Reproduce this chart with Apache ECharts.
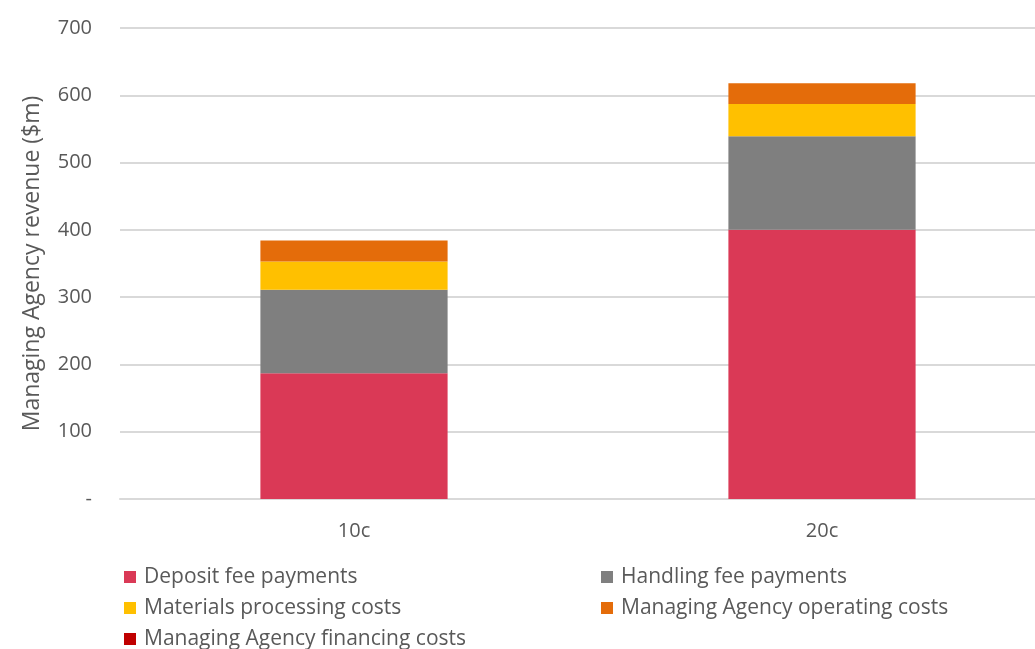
<!DOCTYPE html>
<html>
<head>
<meta charset="utf-8">
<script src="https://cdn.jsdelivr.net/npm/echarts@6/dist/echarts.min.js"></script>
<style>
  html, body { margin: 0; padding: 0; background: #fff; overflow: hidden; }
  #chart { width: 1060px; height: 649px; }
</style>
</head>
<body>
<div id="chart"></div>
<script>
// Managing Agency revenue by container deposit level ($m)
const categories = ['10c', '20c'];
const depositFee = [187, 400];
const handlingFee = [124, 139];
const materialsCost = [42, 48];
const operatingCost = [31, 31];
const financingCost = [0, 0];
const yTicks = [0, 100, 200, 300, 400, 500, 600, 700];

const textColor = '#595959';
const fontFamily = '"Open Sans", "Liberation Sans", sans-serif';

const seriesDefs = [
  { name: 'Deposit fee payments', data: depositFee, color: '#DA3956' },
  { name: 'Handling fee payments', data: handlingFee, color: '#7F7F7F' },
  { name: 'Materials processing costs', data: materialsCost, color: '#FFC000' },
  { name: 'Managing Agency operating costs', data: operatingCost, color: '#E46C0A' },
  { name: 'Managing Agency financing costs', data: financingCost, color: '#C00000' }
];

// legend slot for each series: [left, vertical centre]
const legendSlots = [[124, 577], [601, 577], [124, 608], [601, 608], [124, 639]];

const chart = echarts.init(document.getElementById('chart'), null, { renderer: 'canvas' });

const legends = seriesDefs.map(function (s, i) {
  return {
    left: legendSlots[i][0],
    top: legendSlots[i][1] - 11,
    padding: 0,
    icon: 'rect',
    itemWidth: 12,
    itemHeight: 12,
    selectedMode: false,
    data: [s.name],
    textStyle: { color: textColor, fontSize: 21, fontFamily: fontFamily, lineHeight: 22, padding: [0, 0, 0, 3] }
  };
});

chart.setOption({
  animation: false,
  textStyle: { fontFamily: fontFamily },
  grid: { left: 120, top: 28, width: 936, height: 471, containLabel: false },
  legend: legends,
  xAxis: {
    type: 'category',
    data: categories,
    axisLine: { show: true, lineStyle: { color: '#D9D9D9', width: 2 } },
    axisTick: { show: false },
    axisLabel: { color: textColor, fontSize: 20, margin: 22 }
  },
  yAxis: {
    type: 'value',
    min: 0,
    max: 700,
    interval: 100,
    name: 'Managing Agency revenue ($m)',
    nameLocation: 'middle',
    nameGap: 76,
    nameTextStyle: { color: textColor, fontSize: 23 },
    axisLine: { show: false },
    axisTick: { show: false },
    axisLabel: {
      color: textColor,
      fontSize: 20,
      margin: 28,
      formatter: function (v) { return yTicks.indexOf(v) === 0 ? '-' : String(v); }
    },
    splitLine: { lineStyle: { color: '#D9D9D9', width: 2 } }
  },
  series: seriesDefs.map(function (s) {
    return {
      name: s.name,
      type: 'bar',
      stack: 'total',
      barWidth: '40%',
      data: s.data,
      itemStyle: { color: s.color }
    };
  })
});
</script>
</body>
</html>
